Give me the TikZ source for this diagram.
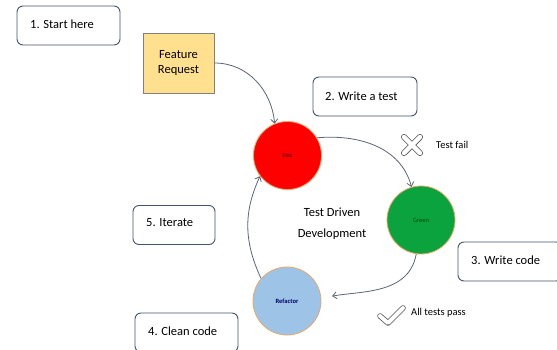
\documentclass[tikz,border=0pt]{standalone}
\usepackage{fontspec}
\setmainfont{Carlito}
\usetikzlibrary{arrows.meta,calc}
\definecolor{boxline}{HTML}{44546A}
\definecolor{arrowc}{HTML}{5A6474}
\definecolor{fryel}{HTML}{FFE08F}
\definecolor{tddred}{HTML}{FF0000}
\definecolor{tddgreen}{HTML}{0BA33E}
\definecolor{tddblue}{HTML}{9DC3E6}
\definecolor{ringc}{HTML}{E8A868}
\definecolor{markc}{HTML}{505050}
\begin{document}
\begin{tikzpicture}[x=1pt,y=-1pt,
  stepbox/.style={draw=boxline,line width=0.9pt,rounded corners=6pt,fill=white,minimum height=39pt,inner sep=0pt},
  steptext/.style={font=\fontsize{12.5}{15}\selectfont,anchor=west,inner sep=0pt},
  phase/.style={circle,draw=ringc,line width=0.8pt,minimum size=68pt,inner sep=0pt},
  flow/.style={draw=arrowc,line width=0.8pt,-{Straight Barb[length=4pt,width=7pt]}},
  lbl/.style={font=\fontsize{10.5}{12}\selectfont,anchor=west,inner sep=0pt}]
\useasboundingbox (0,0) rectangle (557,349);
% step boxes
\node[stepbox,minimum width=103pt] (s1) at (68.5,25.5) {};
\node[steptext] (t1) at (30,24) {1. Start here};
\node[stepbox,minimum width=104pt] (s2) at (365,96.5) {};
\node[steptext] (t2) at (325,96) {2. Write a test};
\node[stepbox,minimum width=104pt] (s3) at (510,261.5) {};
\node[steptext] (t3) at (471,260) {3. Write code};
\node[stepbox,minimum width=82pt] (s5) at (174,225) {};
\node[steptext] (t5) at (146,223) {5. Iterate};
\node[stepbox,minimum width=103pt] (s4) at (186.5,332.5) {};
\node[steptext] (t4) at (148,331) {4. Clean code};
% feature request
\node[draw=gray,line width=0.8pt,fill=fryel,minimum width=71pt,minimum height=60pt,align=center,inner sep=0pt,font=\fontsize{12.5}{15}\selectfont] (fr) at (178.5,63) {Feature\\Request};
% phases
\node[phase,fill=tddred,font=\fontsize{6.5}{8}\selectfont,text=black!60!red] (red) at (287.5,155.5) {Red};
\node[phase,fill=tddgreen,font=\fontsize{6.5}{8}\selectfont,text=black!70!green] (green) at (421,220) {Green};
\node[phase,fill=tddblue,font=\fontsize{6.5}{8}\selectfont\bfseries,text=black!60!blue] (ref) at (287,301) {Refactor};
% center text
\node[font=\fontsize{12.5}{15}\selectfont] (c1) at (332,212) {Test Driven};
\node[font=\fontsize{12.5}{15}\selectfont] (c2) at (332,234) {Development};
% arrows
\draw[flow] (fr.east) to[out=0,in=95] (red.112);
\draw[flow] (red.31) to[out=5,in=105] (green.106);
\draw[flow,shorten >=11pt] (green.-98) to[out=-100,in=10] (ref.5);
\draw[flow] (ref.139) to[out=115,in=-115] (red.-143);
% X mark
\coordinate (xm) at (412,145);
\draw[markc,line width=6pt,line cap=round] ($(xm)+(-8,-8)$) -- ($(xm)+(8,8)$) ($(xm)+(8,-8)$) -- ($(xm)+(-8,8)$);
\draw[white,line width=4.4pt,line cap=round] ($(xm)+(-8,-8)$) -- ($(xm)+(8,8)$) ($(xm)+(8,-8)$) -- ($(xm)+(-8,8)$);
\node[lbl] (tf) at (436,145) {Test fail};
% check mark
\coordinate (cm) at (388,323);
\draw[markc,line width=5.5pt,line cap=round,line join=round] ($(cm)+(-8,-7)$) -- (cm) -- ($(cm)+(15,-15)$);
\draw[white,line width=4pt,line cap=round,line join=round] ($(cm)+(-8,-7)$) -- (cm) -- ($(cm)+(15,-15)$);
\node[lbl] (tp) at (411,313) {All tests pass};
\end{tikzpicture}
\end{document}
